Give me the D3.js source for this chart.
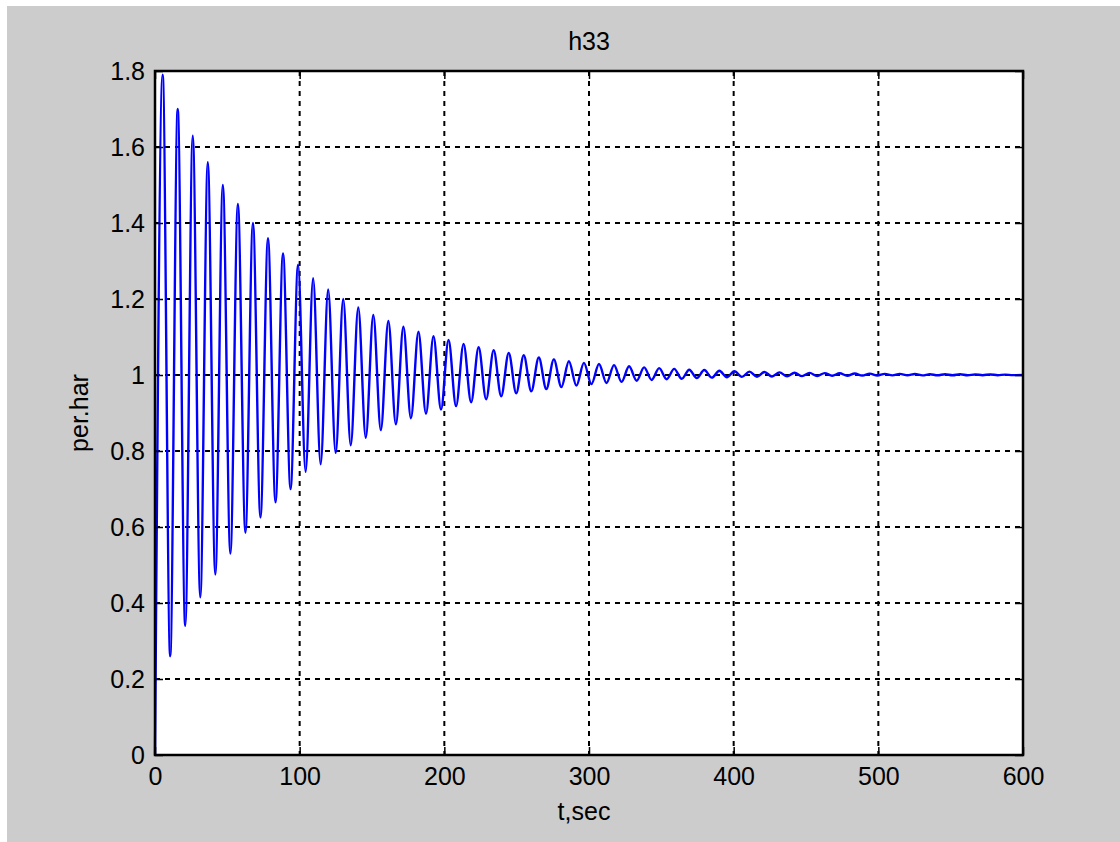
<!DOCTYPE html>
<html lang="en">
	<head>
		<meta charset="utf-8">
		<title>h33</title>
		<script type="text/javascript" src="https://cdn.jsdelivr.net/npm/d3@7"></script>
		<style type="text/css">
			body {
				margin: 0;
				background-color: #ffffff;
				font-family: "Liberation Sans", Arial, sans-serif;
			}
			.tick text {
				font-size: 25px;
				fill: #000000;
			}
		</style>
	</head>
	<body>

		<script type="text/javascript">

			//Width and height of the page
			var w = 1120;
			var h = 842;

			//Axes box (note: "top" is taken by window.top)
			var boxLeft = 155, boxRight = 1023, boxTop = 71, boxBottom = 755;

			//Tick labels
			var xTicks = [0, 100, 200, 300, 400, 500, 600];
			var yTicks = [0, 0.2, 0.4, 0.6, 0.8, 1, 1.2, 1.4, 1.6, 1.8];

			//Start and end of the response
			var startPoint = [0, 0];
			var endPoint = [600, 1.0];

			//Peaks of the oscillation (time, sec)
			var peakTimes = [5.3, 15.7, 26.1, 36.5, 46.9, 57.3, 67.7, 78.1, 88.5, 98.9,
				109.3, 119.7, 130.1, 140.5, 150.9, 161.3, 171.7, 182.1, 192.5, 202.9,
				213.3, 223.7, 234.1, 244.5, 254.9, 265.3, 275.7, 286.1, 296.5, 306.9,
				317.3, 327.7, 338.1, 348.5, 358.9, 369.3, 379.7, 390.1, 400.5, 410.9,
				421.3, 431.7, 442.1, 452.5, 462.9, 473.3, 483.7, 494.1, 504.5, 514.9,
				525.3, 535.7, 546.1, 556.5, 566.9, 577.3, 587.7];
			//Peak values (per.har)
			var peakValues = [1.79, 1.70, 1.63, 1.56, 1.50, 1.45, 1.40, 1.36, 1.32, 1.29,
				1.255, 1.225, 1.20, 1.178, 1.158, 1.142, 1.127, 1.114, 1.102, 1.092,
				1.082, 1.073, 1.065, 1.058, 1.052, 1.046, 1.041, 1.036, 1.032, 1.029,
				1.026, 1.023, 1.020, 1.018, 1.016, 1.014, 1.013, 1.011, 1.010, 1.009,
				1.008, 1.007, 1.006, 1.0055, 1.005, 1.0045, 1.004, 1.0035, 1.003, 1.003,
				1.0025, 1.002, 1.002, 1.002, 1.0015, 1.0015, 1.001];

			//Troughs of the oscillation (time, sec)
			var troughTimes = [10.5, 20.9, 31.3, 41.7, 52.1, 62.5, 72.9, 83.3, 93.7, 104.1,
				114.5, 124.9, 135.3, 145.7, 156.1, 166.5, 176.9, 187.3, 197.7, 208.1,
				218.5, 228.9, 239.3, 249.7, 260.1, 270.5, 280.9, 291.3, 301.7, 312.1,
				322.5, 332.9, 343.3, 353.7, 364.1, 374.5, 384.9, 395.3, 405.7, 416.1,
				426.5, 436.9, 447.3, 457.7, 468.1, 478.5, 488.9, 499.3, 509.7, 520.1,
				530.5, 540.9, 551.3, 561.7, 572.1, 582.5, 592.9];
			//Trough values (per.har)
			var troughValues = [0.26, 0.34, 0.415, 0.475, 0.53, 0.585, 0.625, 0.665, 0.70, 0.745,
				0.765, 0.795, 0.815, 0.835, 0.855, 0.87, 0.886, 0.898, 0.909, 0.918,
				0.928, 0.936, 0.944, 0.952, 0.957, 0.963, 0.968, 0.972, 0.976, 0.979,
				0.982, 0.985, 0.987, 0.989, 0.990, 0.992, 0.993, 0.994, 0.995, 0.9955,
				0.996, 0.9965, 0.997, 0.9975, 0.998, 0.998, 0.9985, 0.9985, 0.999, 0.999,
				0.999, 0.9992, 0.9993, 0.9994, 0.9995, 0.9995, 0.9996];

			//Put the extremes in time order
			var dataset = [startPoint];
			for (var i = 0; i < peakTimes.length; i++) {
				dataset.push([peakTimes[i], peakValues[i]]);
				dataset.push([troughTimes[i], troughValues[i]]);
			}
			dataset.push(endPoint);

			//Scales
			var xScale = d3.scaleLinear()
						   .domain([0, 600])
						   .range([boxLeft, boxRight]);

			var yScale = d3.scaleLinear()
						   .domain([0, 1.8])
						   .range([boxBottom, boxTop]);

			//Create SVG element
			var svg = d3.select("body")
						.append("svg")
						.attr("width", w)
						.attr("height", h);

			//Gray figure background
			svg.append("rect")
			   .attr("x", 7)
			   .attr("y", 6)
			   .attr("width", w - 7)
			   .attr("height", h - 6)
			   .attr("fill", "#cccccc");

			//White axes area
			svg.append("rect")
			   .attr("x", boxLeft)
			   .attr("y", boxTop)
			   .attr("width", boxRight - boxLeft)
			   .attr("height", boxBottom - boxTop)
			   .attr("fill", "#ffffff");

			//Grid lines (dashed)
			var grid = svg.append("g").attr("class", "grid");

			grid.selectAll("line.gx")
			   .data(xTicks.slice(1, -1))
			   .enter()
			   .append("line")
			   .attr("class", "gx")
			   .attr("x1", function(d) { return xScale(d); })
			   .attr("x2", function(d) { return xScale(d); })
			   .attr("y1", boxTop)
			   .attr("y2", boxBottom);

			grid.selectAll("line.gy")
			   .data(yTicks.slice(1, -1))
			   .enter()
			   .append("line")
			   .attr("class", "gy")
			   .attr("x1", boxLeft)
			   .attr("x2", boxRight)
			   .attr("y1", function(d) { return yScale(d); })
			   .attr("y2", function(d) { return yScale(d); });

			grid.selectAll("line")
			   .attr("stroke", "#000000")
			   .attr("stroke-width", 2)
			   .attr("stroke-dasharray", "5,5");

			//The response line
			var line = d3.line()
						 .x(function(d) { return xScale(d[0]); })
						 .y(function(d) { return yScale(d[1]); })
						 .curve(d3.curveMonotoneX);

			svg.append("path")
			   .datum(dataset)
			   .attr("d", line)
			   .attr("fill", "none")
			   .attr("stroke", "#0000ff")
			   .attr("stroke-width", 2.4);

			//Axes, ticks pointing inward like MATLAB
			var xAxis = d3.axisBottom(xScale)
						  .tickValues(xTicks)
						  .tickFormat(d3.format("d"))
						  .tickSize(-8)
						  .tickPadding(12);

			var yAxis = d3.axisLeft(yScale)
						  .tickValues(yTicks)
						  .tickFormat(function(d) { return String(+d.toFixed(1)); })
						  .tickSize(-8)
						  .tickPadding(10);

			svg.append("g")
			   .attr("class", "axis")
			   .attr("transform", "translate(0," + boxBottom + ")")
			   .call(xAxis);

			svg.append("g")
			   .attr("class", "axis")
			   .attr("transform", "translate(" + boxLeft + ",0)")
			   .call(yAxis);

			//Top and right ticks, no labels
			svg.append("g")
			   .attr("transform", "translate(0," + boxTop + ")")
			   .call(d3.axisTop(xScale).tickValues(xTicks).tickSize(-8).tickFormat(""));

			svg.append("g")
			   .attr("transform", "translate(" + boxRight + ",0)")
			   .call(d3.axisRight(yScale).tickValues(yTicks).tickSize(-8).tickFormat(""));

			svg.selectAll(".domain").remove();
			svg.selectAll(".tick line").attr("stroke", "#000000").attr("stroke-width", 1.5);
			svg.selectAll(".tick text").attr("font-family", "'Liberation Sans', Arial, sans-serif");

			//Box around the axes
			svg.append("rect")
			   .attr("x", boxLeft)
			   .attr("y", boxTop)
			   .attr("width", boxRight - boxLeft)
			   .attr("height", boxBottom - boxTop)
			   .attr("fill", "none")
			   .attr("stroke", "#000000")
			   .attr("stroke-width", 2.5);

			//Title and labels
			svg.append("text")
			   .attr("x", (boxLeft + boxRight) / 2)
			   .attr("y", 50)
			   .attr("text-anchor", "middle")
			   .attr("font-size", "25px")
			   .text("h33");

			svg.append("text")
			   .attr("x", 584)
			   .attr("y", 820)
			   .attr("text-anchor", "middle")
			   .attr("font-size", "25px")
			   .text("t,sec");

			svg.append("text")
			   .attr("transform", "translate(88," + ((boxTop + boxBottom) / 2) + ") rotate(-90)")
			   .attr("text-anchor", "middle")
			   .attr("font-size", "25px")
			   .text("per.har");

		</script>
	</body>
</html>
